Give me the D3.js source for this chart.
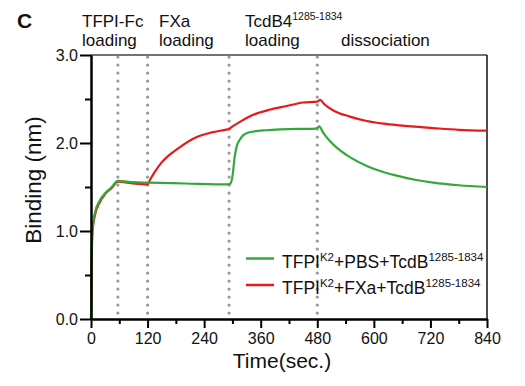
<!DOCTYPE html>
<html><head><meta charset="utf-8">
<script src="https://cdn.jsdelivr.net/npm/d3@7"></script>
<style>body{margin:0;background:#fff}svg{display:block}text{font-family:"Liberation Sans",Arial,sans-serif;fill:#111}</style>
</head><body>
<svg id="c" width="525" height="386"></svg>
<script>
const xTicks = [0,120,240,360,480,600,720,840];
const yTicks = [0.0,1.0,2.0,3.0];
const phaseTimes = [57,120,293,480];
const timeGreen = [0,1,3,8,19,30,44,57,90,120,200,290,296,300,305,309,316,323,335,344,370,401,440,471,480,484,492,507,525,549,585,620,655,690,726,780,840];
const green = [0,0.52,1.01,1.2,1.35,1.43,1.5,1.57,1.555,1.55,1.54,1.53,1.54,1.62,1.85,1.96,2.04,2.09,2.12,2.13,2.145,2.155,2.16,2.16,2.17,2.19,2.12,2.02,1.93,1.84,1.74,1.67,1.62,1.58,1.55,1.52,1.50];
const timeRed = [0,1,3,8,19,30,44,57,90,120,125,135,150,170,185,221,256,284,293,298,316,344,380,415,450,480,486,495,514,549,585,620,655,726,780,840];
const red = [0,0.5,0.98,1.17,1.33,1.42,1.49,1.56,1.54,1.53,1.58,1.67,1.78,1.88,1.94,2.06,2.12,2.15,2.16,2.18,2.24,2.32,2.38,2.42,2.46,2.47,2.49,2.44,2.37,2.30,2.25,2.22,2.20,2.17,2.15,2.14];

const svg = d3.select("#c");
const L=91,R=487,T=55,B=319;
const x = d3.scaleLinear().domain([0,840]).range([L,R]);
const y = d3.scaleLinear().domain([0,3]).range([B,T]);

// frame top/right
svg.append("line").attr("x1",L).attr("x2",R).attr("y1",T).attr("y2",T).attr("stroke","#444").attr("stroke-width",1.5);
svg.append("line").attr("x1",R).attr("x2",R).attr("y1",T).attr("y2",B).attr("stroke","#111").attr("stroke-width",1.5);

// dotted phase lines
svg.selectAll(".ph").data(phaseTimes).join("line")
  .attr("x1",d=>x(d)).attr("x2",d=>x(d)).attr("y1",T+2).attr("y2",B)
  .attr("stroke","#9a9a9a").attr("stroke-width",3.2).attr("stroke-linecap","round")
  .attr("stroke-dasharray","0.1 7.9");

const line = d3.line().curve(d3.curveMonotoneX);
function draw(ts,vs,col){
  svg.append("path").attr("d",line(ts.map((t,i)=>[x(t),y(vs[i])])))
   .attr("fill","none").attr("stroke",col).attr("stroke-width",2.2);
}
draw(timeRed,red,"#e41a1c");
draw(timeGreen,green,"#34a93a");

// axes
svg.append("g").attr("transform",`translate(0,${B})`)
  .call(d3.axisBottom(x).tickValues(xTicks).tickSize(9).tickSizeOuter(0).tickPadding(5));
svg.append("g").attr("transform",`translate(0,${B})`)
  .call(d3.axisBottom(x).tickValues(d3.range(60,840,120)).tickSize(5).tickSizeOuter(0).tickFormat(""));
svg.append("g").attr("transform",`translate(${L},0)`)
  .call(d3.axisLeft(y).tickValues(yTicks).tickFormat(d3.format(".1f")).tickSize(11).tickSizeOuter(0).tickPadding(2));
svg.append("g").attr("transform",`translate(${L},0)`)
  .call(d3.axisLeft(y).tickValues([0.5,1.5,2.5]).tickSize(6).tickSizeOuter(0).tickFormat(""));
svg.selectAll(".domain").attr("stroke","#000").attr("stroke-width",2);
svg.selectAll(".tick line").attr("stroke","#000").attr("stroke-width",2);
svg.selectAll(".tick text").attr("font-size",16).attr("fill","#111").style("font-family","Liberation Sans, Arial, sans-serif");

// axis titles
svg.append("text").attr("x",282).attr("y",368).attr("text-anchor","middle").attr("font-size",21).text("Time(sec.)");
svg.append("text").attr("transform","translate(41,180) rotate(-90)").attr("text-anchor","middle").attr("font-size",22.5).text("Binding (nm)");

// panel letter
svg.append("text").attr("x",17).attr("y",28).attr("font-size",21).attr("font-weight","bold").text("C");

// phase labels
const fs=17;
function lab(xp,yp,t){svg.append("text").attr("x",xp).attr("y",yp).attr("font-size",fs).text(t);}
lab(82,27,"TFPI-Fc"); lab(82,46,"loading");
lab(159,27,"FXa"); lab(159,46,"loading");
const tc = svg.append("text").attr("x",245).attr("y",27).attr("font-size",fs);
tc.append("tspan").text("TcdB4");
tc.append("tspan").attr("font-size",10.5).attr("dy",-7).text("1285-1834");
lab(245,46,"loading");
lab(341,46,"dissociation");

// legend
const leg = [
  {c:"#34a93a", a:"TFPI", b:"K2", m:"+PBS+TcdB", s:"1285-1834", y:258.5},
  {c:"#e41a1c", a:"TFPI", b:"K2", m:"+FXa+TcdB", s:"1285-1834", y:285}
];
leg.forEach(d=>{
  svg.append("line").attr("x1",246).attr("x2",274).attr("y1",d.y).attr("y2",d.y).attr("stroke",d.c).attr("stroke-width",2.5);
  const t = svg.append("text").attr("x",282).attr("y",d.y+9).attr("font-size",17.5);
  t.append("tspan").text(d.a);
  t.append("tspan").attr("font-size",11.5).attr("dy",-7).text(d.b);
  t.append("tspan").attr("dy",7).text(d.m);
  t.append("tspan").attr("font-size",11.5).attr("dy",-7).text(d.s);
});
</script>
</body></html>
